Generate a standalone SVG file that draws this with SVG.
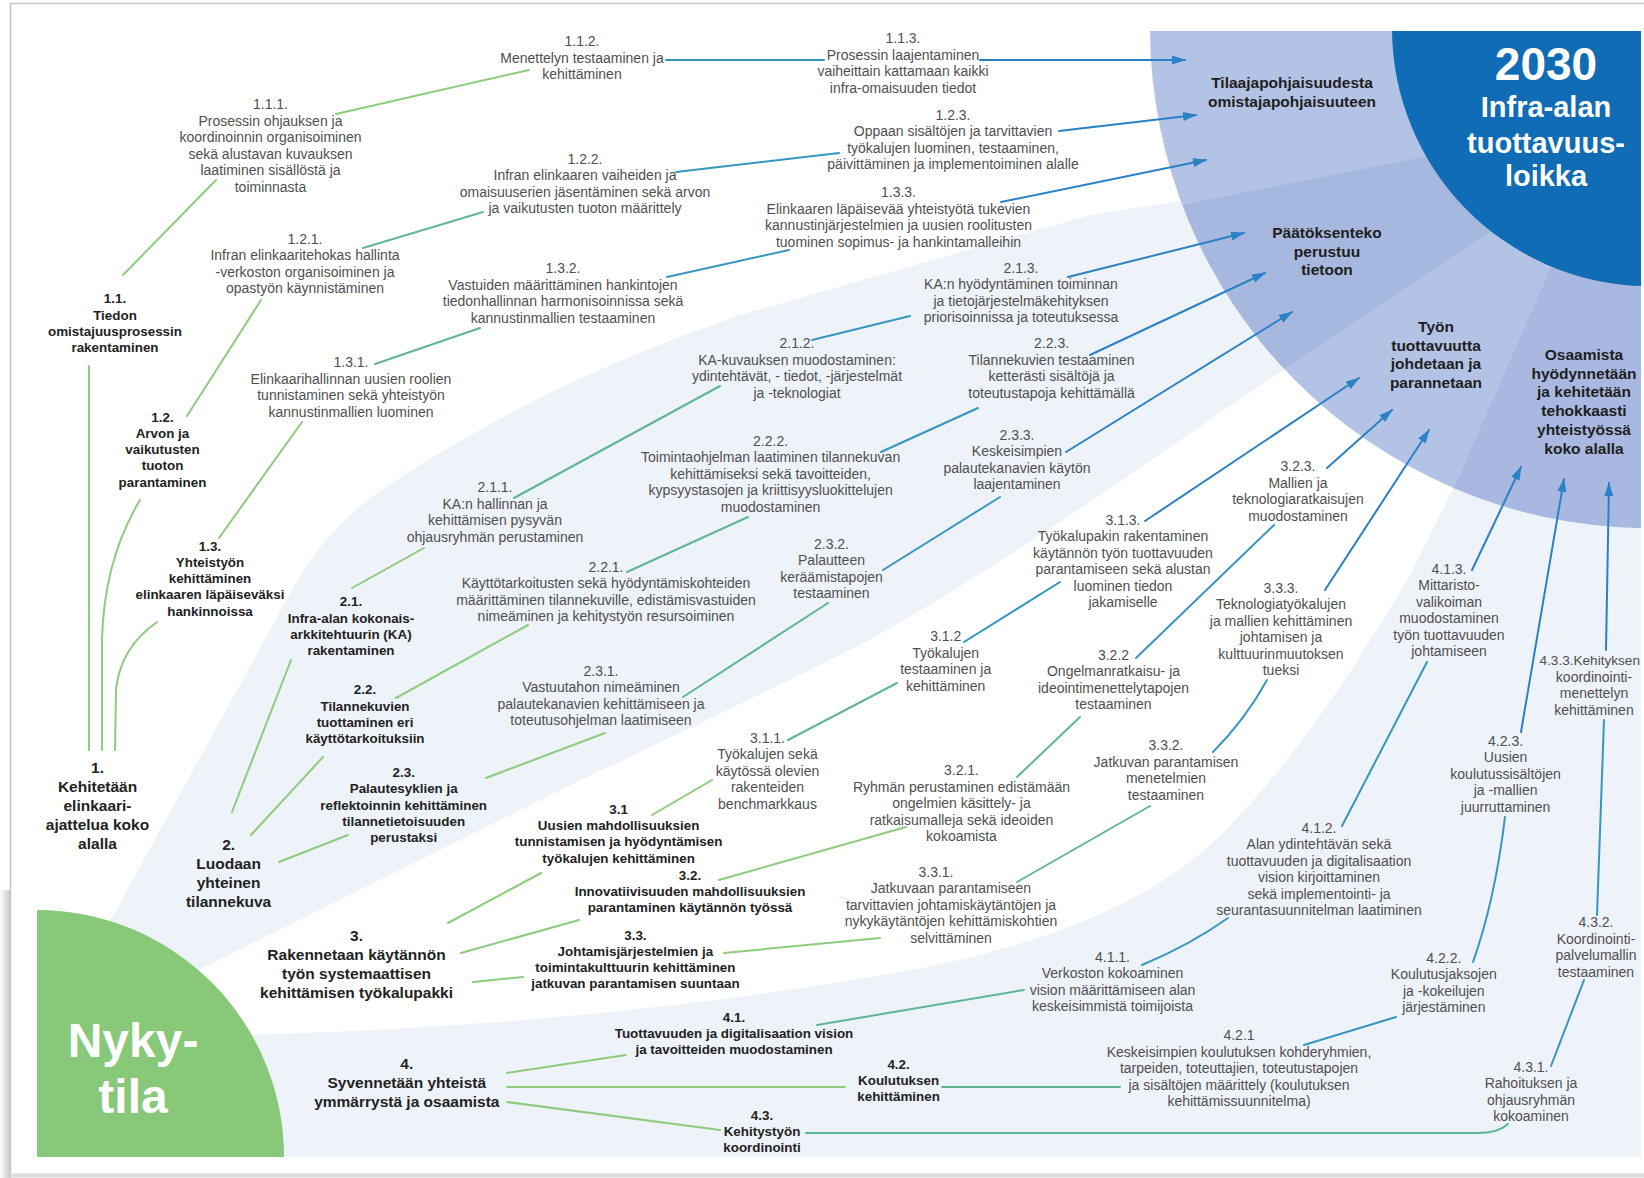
<svg xmlns="http://www.w3.org/2000/svg" width="1644" height="1178" viewBox="0 0 1644 1178">
<defs>
<style>
text{font-family:"Liberation Sans",Arial,sans-serif;text-anchor:middle}
.s{font-size:14px;fill:#4f4f4f}
.b{font-size:13.4px;font-weight:bold;fill:#222}
.t{font-size:15.5px;font-weight:bold;fill:#222}
.g{font-size:15.5px;font-weight:bold;fill:#1e1e1e}
.w{font-weight:bold;fill:#fff}
.c{fill:none;stroke-width:2;stroke-linecap:round}
.c0{stroke:#8dcb7f}
.c1{stroke:#5fb792}
.c2{stroke:#3796c0}
.c3{stroke:#2a81c5}
</style>
<marker id="ah" markerWidth="14" markerHeight="10" refX="13" refY="5" orient="auto" markerUnits="userSpaceOnUse"><path d="M0,0.5 L14,5 L0,9.5 Z" fill="#2a81c5"/></marker>
<clipPath id="cc"><path d="M1150,31 A500,500 0 0 0 1641,528 L1641,31 Z"/></clipPath>
<linearGradient id="sh" x1="0" y1="0" x2="1" y2="0"><stop offset="0" stop-color="#ffffff"/><stop offset="1" stop-color="#c9c9c9"/></linearGradient>
</defs>
<g id="background">
<rect width="1644" height="1178" fill="#fff"/>
<rect x="0" y="890" width="10" height="288" fill="url(#sh)"/>
<path d="M10.5,1178 L10.5,3.5 L1644,3.5" fill="none" stroke="#c6c6c6" stroke-width="1.5"/>
<path d="M10.5,1175.5 L1644,1175.5" stroke="#dcdcdc" stroke-width="4"/>
<path id="band2" fill="#eef2f9" d="M108,925 L292,590 Q330,520 400,478 Q470,432 560,388 Q640,350 740,315 L1090,215 L1250,190 L1330,330 L1290,365 L1100,495 Q960,590 860,645 Q760,695 560,790 L195,972 Z"/>
<path id="band4" fill="#eef2f9" d="M250,1035 Q600,1025 900,972 C1050,945 1150,900 1210,845 C1290,770 1360,660 1410,575 L1455,485 L1470,450 L1641,450 L1641,1157 L37,1157 L37,1035 Z"/>
<g clip-path="url(#cc)">
<rect x="1100" y="0" width="544" height="600" fill="#b3c3e6"/>
<polygon points="1100,222 1182,205 1650,112 1650,126 1290,365 1100,495" fill="#a7b8df"/>
<polygon points="1361,700 1563,240 1650,240 1650,700" fill="#a8b8e0"/>
</g>
<path d="M1392,31 A258,258 0 0 0 1641,286 L1641,31 Z" fill="#106cb4"/>
<path d="M37,910 A247,247 0 0 1 284,1157 L37,1157 Z" fill="#87c879"/>
</g>
<g id="connectors">
<path class="c c0" d="M89,750 L89,366"/>
<path class="c c0" d="M102,750 L102,640 Q104,560 140,500"/>
<path class="c c0" d="M115,750 L116,690 Q120,648 157,622"/>
<path class="c c0" d="M123,275 L216,180"/>
<path class="c c0" d="M336,114 L529,70"/>
<path class="c c2" d="M666,60 L824,60"/>
<path class="c c3" d="M980,60 L1185,60" marker-end="url(#ah)"/>
<path class="c c0" d="M187,416 L261,300"/>
<path class="c c1" d="M363,248 L483,212"/>
<path class="c c2" d="M676,172 L839,153"/>
<path class="c c3" d="M1059,131 L1196,115" marker-end="url(#ah)"/>
<path class="c c0" d="M219,538 L302,422"/>
<path class="c c1" d="M375,364 L480,328"/>
<path class="c c2" d="M667,277 L789,250"/>
<path class="c c3" d="M1001,202 L1206,160" marker-end="url(#ah)"/>
<path class="c c0" d="M232,812 L291,660"/>
<path class="c c0" d="M251,835 L323,757"/>
<path class="c c0" d="M279,862 L348,835"/>
<path class="c c0" d="M352,588 L424,548"/>
<path class="c c1" d="M514,498 L720,386"/>
<path class="c c2" d="M812,340 L910,316"/>
<path class="c c3" d="M1068,277 L1244,233" marker-end="url(#ah)"/>
<path class="c c0" d="M396,698 L528,625"/>
<path class="c c1" d="M627,572 L748,517"/>
<path class="c c2" d="M881,452 L978,408"/>
<path class="c c3" d="M1090,355 L1265,273" marker-end="url(#ah)"/>
<path class="c c0" d="M486,778 L605,733"/>
<path class="c c1" d="M683,697 L828,603"/>
<path class="c c2" d="M883,570 L1000,497"/>
<path class="c c3" d="M1066,452 L1292,312" marker-end="url(#ah)"/>
<path class="c c0" d="M448,923 L541,873"/>
<path class="c c0" d="M461,953 L579,920"/>
<path class="c c0" d="M473,982 L523,977"/>
<path class="c c0" d="M652,815 L712,780"/>
<path class="c c1" d="M788,740 L897,683"/>
<path class="c c2" d="M964,642 L1060,582"/>
<path class="c c3" d="M1145,521 L1359,378" marker-end="url(#ah)"/>
<path class="c c0" d="M719,880 L906,827"/>
<path class="c c1" d="M1017,777 L1080,717"/>
<path class="c c2" d="M1136,658 L1274,525"/>
<path class="c c3" d="M1327,468 L1392,410" marker-end="url(#ah)"/>
<path class="c c0" d="M724,953 L880,938"/>
<path class="c c1" d="M1017,882 L1150,806"/>
<path class="c c2" d="M1213,752 Q1245,720 1267,680"/>
<path class="c c3" d="M1325,590 L1429,430" marker-end="url(#ah)"/>
<path class="c c0" d="M507,1073 L626,1055"/>
<path class="c c0" d="M507,1087 L845,1087"/>
<path class="c c0" d="M507,1102 L720,1130"/>
<path class="c c1" d="M817,1025 L1024,990"/>
<path class="c c2" d="M1142,965 Q1190,945 1228,918"/>
<path class="c c2" d="M1342,826 L1427,662"/>
<path class="c c3" d="M1472,570 L1521,467" marker-end="url(#ah)"/>
<path class="c c1" d="M942,1087 L1120,1087"/>
<path class="c c2" d="M1304,1045 L1396,1017"/>
<path class="c c2" d="M1473,962 Q1495,900 1505,817"/>
<path class="c c3" d="M1521,732 L1564,479" marker-end="url(#ah)"/>
<path class="c c1" d="M806,1133 L1478,1133 Q1498,1133 1508,1124"/>
<path class="c c2" d="M1551,1066 L1584,980"/>
<path class="c c2" d="M1597,915 L1604,720"/>
<path class="c c3" d="M1606,650 L1609,483" marker-end="url(#ah)"/>
</g>
<g id="goal-2030"><text class="w" x="1546" y="80" font-size="46">2030</text><text class="w" x="1546" y="117" font-size="29">Infra-alan</text><text class="w" x="1546" y="153" font-size="29">tuottavuus-</text><text class="w" x="1546" y="186" font-size="29">loikka</text></g>
<g id="goal-1"><text class="g" x="1292" y="88"><tspan x="1292">Tilaajapohjaisuudesta</tspan><tspan x="1292" dy="18.7">omistajapohjaisuuteen</tspan></text></g>
<g id="goal-2"><text class="g" x="1327" y="238"><tspan x="1327">Päätöksenteko</tspan><tspan x="1327" dy="18.7">perustuu</tspan><tspan x="1327" dy="18.7">tietoon</tspan></text></g>
<g id="goal-3"><text class="g" x="1436" y="332"><tspan x="1436">Työn</tspan><tspan x="1436" dy="18.7">tuottavuutta</tspan><tspan x="1436" dy="18.7">johdetaan ja</tspan><tspan x="1436" dy="18.7">parannetaan</tspan></text></g>
<g id="goal-4"><text class="g" x="1584" y="360"><tspan x="1584">Osaamista</tspan><tspan x="1584" dy="18.7">hyödynnetään</tspan><tspan x="1584" dy="18.7">ja kehitetään</tspan><tspan x="1584" dy="18.7">tehokkaasti</tspan><tspan x="1584" dy="18.7">yhteistyössä</tspan><tspan x="1584" dy="18.7">koko alalla</tspan></text></g>
<g id="nykytila"><text class="w" x="133" y="1057" font-size="48">Nyky-</text><text class="w" x="133" y="1113" font-size="48">tila</text></g>
<g id="n1"><text class="t" x="97.5" y="773"><tspan x="97.5">1.</tspan><tspan x="97.5" dy="19.1">Kehitetään</tspan><tspan x="97.5" dy="19.1">elinkaari-</tspan><tspan x="97.5" dy="19.1">ajattelua koko</tspan><tspan x="97.5" dy="19.1">alalla</tspan></text></g>
<g id="n11"><text class="b" x="115" y="303.3"><tspan x="115">1.1.</tspan><tspan x="115" dy="16.2">Tiedon</tspan><tspan x="115" dy="16.2">omistajuusprosessin</tspan><tspan x="115" dy="16.2">rakentaminen</tspan></text></g>
<g id="n12"><text class="b" x="162.5" y="421.8"><tspan x="162.5">1.2.</tspan><tspan x="162.5" dy="16.2">Arvon ja</tspan><tspan x="162.5" dy="16.2">vaikutusten</tspan><tspan x="162.5" dy="16.2">tuoton</tspan><tspan x="162.5" dy="16.2">parantaminen</tspan></text></g>
<g id="n13"><text class="b" x="210" y="550.8"><tspan x="210">1.3.</tspan><tspan x="210" dy="16.2">Yhteistyön</tspan><tspan x="210" dy="16.2">kehittäminen</tspan><tspan x="210" dy="16.2">elinkaaren läpäiseväksi</tspan><tspan x="210" dy="16.2">hankinnoissa</tspan></text></g>
<g id="n111"><text class="s" x="270.5" y="109.4"><tspan x="270.5">1.1.1.</tspan><tspan x="270.5" dy="16.5">Prosessin ohjauksen ja</tspan><tspan x="270.5" dy="16.5">koordinoinnin organisoiminen</tspan><tspan x="270.5" dy="16.5">sekä alustavan kuvauksen</tspan><tspan x="270.5" dy="16.5">laatiminen sisällöstä ja</tspan><tspan x="270.5" dy="16.5">toiminnasta</tspan></text></g>
<g id="n112"><text class="s" x="582" y="46.4"><tspan x="582">1.1.2.</tspan><tspan x="582" dy="16.5">Menettelyn testaaminen ja</tspan><tspan x="582" dy="16.5">kehittäminen</tspan></text></g>
<g id="n113"><text class="s" x="903" y="43.3"><tspan x="903">1.1.3.</tspan><tspan x="903" dy="16.5">Prosessin laajentaminen</tspan><tspan x="903" dy="16.5">vaiheittain kattamaan kaikki</tspan><tspan x="903" dy="16.5">infra-omaisuuden tiedot</tspan></text></g>
<g id="n121"><text class="s" x="305" y="243.6"><tspan x="305">1.2.1.</tspan><tspan x="305" dy="16.5">Infran elinkaaritehokas hallinta</tspan><tspan x="305" dy="16.5">-verkoston organisoiminen ja</tspan><tspan x="305" dy="16.5">opastyön käynnistäminen</tspan></text></g>
<g id="n122"><text class="s" x="585" y="163.9"><tspan x="585">1.2.2.</tspan><tspan x="585" dy="16.5">Infran elinkaaren vaiheiden ja</tspan><tspan x="585" dy="16.5">omaisuuserien jäsentäminen sekä arvon</tspan><tspan x="585" dy="16.5">ja vaikutusten tuoton määrittely</tspan></text></g>
<g id="n123"><text class="s" x="953" y="119.8"><tspan x="953">1.2.3.</tspan><tspan x="953" dy="16.5">Oppaan sisältöjen ja tarvittavien</tspan><tspan x="953" dy="16.5">työkalujen luominen, testaaminen,</tspan><tspan x="953" dy="16.5">päivittäminen ja implementoiminen alalle</tspan></text></g>
<g id="n131"><text class="s" x="351" y="367.3"><tspan x="351">1.3.1.</tspan><tspan x="351" dy="16.5">Elinkaarihallinnan uusien roolien</tspan><tspan x="351" dy="16.5">tunnistaminen sekä yhteistyön</tspan><tspan x="351" dy="16.5">kannustinmallien luominen</tspan></text></g>
<g id="n132"><text class="s" x="563" y="273"><tspan x="563">1.3.2.</tspan><tspan x="563" dy="16.5">Vastuiden määrittäminen hankintojen</tspan><tspan x="563" dy="16.5">tiedonhallinnan harmonisoinnissa sekä</tspan><tspan x="563" dy="16.5">kannustinmallien testaaminen</tspan></text></g>
<g id="n133"><text class="s" x="898.5" y="197.4"><tspan x="898.5">1.3.3.</tspan><tspan x="898.5" dy="16.5">Elinkaaren läpäisevää yhteistyötä tukevien</tspan><tspan x="898.5" dy="16.5">kannustinjärjestelmien ja uusien roolitusten</tspan><tspan x="898.5" dy="16.5">tuominen sopimus- ja hankintamalleihin</tspan></text></g>
<g id="n2"><text class="t" x="228.6" y="849.6"><tspan x="228.6">2.</tspan><tspan x="228.6" dy="19.1">Luodaan</tspan><tspan x="228.6" dy="19.1">yhteinen</tspan><tspan x="228.6" dy="19.1">tilannekuva</tspan></text></g>
<g id="n21"><text class="b" x="351" y="606.3"><tspan x="351">2.1.</tspan><tspan x="351" dy="16.2">Infra-alan kokonais-</tspan><tspan x="351" dy="16.2">arkkitehtuurin (KA)</tspan><tspan x="351" dy="16.2">rakentaminen</tspan></text></g>
<g id="n22"><text class="b" x="365" y="694.4"><tspan x="365">2.2.</tspan><tspan x="365" dy="16.2">Tilannekuvien</tspan><tspan x="365" dy="16.2">tuottaminen eri</tspan><tspan x="365" dy="16.2">käyttötarkoituksiin</tspan></text></g>
<g id="n23"><text class="b" x="403.7" y="777.2"><tspan x="403.7">2.3.</tspan><tspan x="403.7" dy="16.2">Palautesyklien ja</tspan><tspan x="403.7" dy="16.2">reflektoinnin kehittäminen</tspan><tspan x="403.7" dy="16.2">tilannetietoisuuden</tspan><tspan x="403.7" dy="16.2">perustaksi</tspan></text></g>
<g id="n211"><text class="s" x="495" y="492"><tspan x="495">2.1.1.</tspan><tspan x="495" dy="16.5">KA:n hallinnan ja</tspan><tspan x="495" dy="16.5">kehittämisen pysyvän</tspan><tspan x="495" dy="16.5">ohjausryhmän perustaminen</tspan></text></g>
<g id="n212"><text class="s" x="797" y="348.4"><tspan x="797">2.1.2.</tspan><tspan x="797" dy="16.5">KA-kuvauksen muodostaminen:</tspan><tspan x="797" dy="16.5">ydintehtävät, - tiedot, -järjestelmät</tspan><tspan x="797" dy="16.5">ja -teknologiat</tspan></text></g>
<g id="n213"><text class="s" x="1021" y="272.9"><tspan x="1021">2.1.3.</tspan><tspan x="1021" dy="16.5">KA:n hyödyntäminen toiminnan</tspan><tspan x="1021" dy="16.5">ja tietojärjestelmäkehityksen</tspan><tspan x="1021" dy="16.5">priorisoinnissa ja toteutuksessa</tspan></text></g>
<g id="n221"><text class="s" x="606" y="571.7"><tspan x="606">2.2.1.</tspan><tspan x="606" dy="16.5">Käyttötarkoitusten sekä hyödyntämiskohteiden</tspan><tspan x="606" dy="16.5">määrittäminen tilannekuville, edistämisvastuiden</tspan><tspan x="606" dy="16.5">nimeäminen ja kehitystyön resursoiminen</tspan></text></g>
<g id="n222"><text class="s" x="770.6" y="445.9"><tspan x="770.6">2.2.2.</tspan><tspan x="770.6" dy="16.5">Toimintaohjelman laatiminen tilannekuvan</tspan><tspan x="770.6" dy="16.5">kehittämiseksi sekä tavoitteiden,</tspan><tspan x="770.6" dy="16.5">kypsyystasojen ja kriittisyysluokittelujen</tspan><tspan x="770.6" dy="16.5">muodostaminen</tspan></text></g>
<g id="n223"><text class="s" x="1051.6" y="348.4"><tspan x="1051.6">2.2.3.</tspan><tspan x="1051.6" dy="16.5">Tilannekuvien testaaminen</tspan><tspan x="1051.6" dy="16.5">ketterästi sisältöjä ja</tspan><tspan x="1051.6" dy="16.5">toteutustapoja kehittämällä</tspan></text></g>
<g id="n231"><text class="s" x="601" y="675.6"><tspan x="601">2.3.1.</tspan><tspan x="601" dy="16.5">Vastuutahon nimeäminen</tspan><tspan x="601" dy="16.5">palautekanavien kehittämiseen ja</tspan><tspan x="601" dy="16.5">toteutusohjelman laatimiseen</tspan></text></g>
<g id="n232"><text class="s" x="831.5" y="548.7"><tspan x="831.5">2.3.2.</tspan><tspan x="831.5" dy="16.5">Palautteen</tspan><tspan x="831.5" dy="16.5">keräämistapojen</tspan><tspan x="831.5" dy="16.5">testaaminen</tspan></text></g>
<g id="n233"><text class="s" x="1017" y="439.6"><tspan x="1017">2.3.3.</tspan><tspan x="1017" dy="16.5">Keskeisimpien</tspan><tspan x="1017" dy="16.5">palautekanavien käytön</tspan><tspan x="1017" dy="16.5">laajentaminen</tspan></text></g>
<g id="n3"><text class="t" x="356.5" y="940.8"><tspan x="356.5">3.</tspan><tspan x="356.5" dy="19.1">Rakennetaan käytännön</tspan><tspan x="356.5" dy="19.1">työn systemaattisen</tspan><tspan x="356.5" dy="19.1">kehittämisen työkalupakki</tspan></text></g>
<g id="n31"><text class="b" x="618.6" y="814"><tspan x="618.6">3.1</tspan><tspan x="618.6" dy="16.2">Uusien mahdollisuuksien</tspan><tspan x="618.6" dy="16.2">tunnistamisen ja hyödyntämisen</tspan><tspan x="618.6" dy="16.2">työkalujen kehittäminen</tspan></text></g>
<g id="n32"><text class="b" x="690" y="880"><tspan x="690">3.2.</tspan><tspan x="690" dy="16.2">Innovatiivisuuden mahdollisuuksien</tspan><tspan x="690" dy="16.2">parantaminen käytännön työssä</tspan></text></g>
<g id="n33"><text class="b" x="635.4" y="939.8"><tspan x="635.4">3.3.</tspan><tspan x="635.4" dy="16.2">Johtamisjärjestelmien ja</tspan><tspan x="635.4" dy="16.2">toimintakulttuurin kehittäminen</tspan><tspan x="635.4" dy="16.2">jatkuvan parantamisen suuntaan</tspan></text></g>
<g id="n311"><text class="s" x="767.5" y="742.6"><tspan x="767.5">3.1.1.</tspan><tspan x="767.5" dy="16.5">Työkalujen sekä</tspan><tspan x="767.5" dy="16.5">käytössä olevien</tspan><tspan x="767.5" dy="16.5">rakenteiden</tspan><tspan x="767.5" dy="16.5">benchmarkkaus</tspan></text></g>
<g id="n312"><text class="s" x="945.7" y="641"><tspan x="945.7">3.1.2</tspan><tspan x="945.7" dy="16.5">Työkalujen</tspan><tspan x="945.7" dy="16.5">testaaminen ja</tspan><tspan x="945.7" dy="16.5">kehittäminen</tspan></text></g>
<g id="n313"><text class="s" x="1123" y="524.6"><tspan x="1123">3.1.3.</tspan><tspan x="1123" dy="16.5">Työkalupakin rakentaminen</tspan><tspan x="1123" dy="16.5">käytännön työn tuottavuuden</tspan><tspan x="1123" dy="16.5">parantamiseen sekä alustan</tspan><tspan x="1123" dy="16.5">luominen tiedon</tspan><tspan x="1123" dy="16.5">jakamiselle</tspan></text></g>
<g id="n321"><text class="s" x="961.5" y="775.2"><tspan x="961.5">3.2.1.</tspan><tspan x="961.5" dy="16.5">Ryhmän perustaminen edistämään</tspan><tspan x="961.5" dy="16.5">ongelmien käsittely- ja</tspan><tspan x="961.5" dy="16.5">ratkaisumalleja sekä ideoiden</tspan><tspan x="961.5" dy="16.5">kokoamista</tspan></text></g>
<g id="n322"><text class="s" x="1113.5" y="659.8"><tspan x="1113.5">3.2.2</tspan><tspan x="1113.5" dy="16.5">Ongelmanratkaisu- ja</tspan><tspan x="1113.5" dy="16.5">ideointimenettelytapojen</tspan><tspan x="1113.5" dy="16.5">testaaminen</tspan></text></g>
<g id="n323"><text class="s" x="1298" y="471"><tspan x="1298">3.2.3.</tspan><tspan x="1298" dy="16.5">Mallien ja</tspan><tspan x="1298" dy="16.5">teknologiaratkaisujen</tspan><tspan x="1298" dy="16.5">muodostaminen</tspan></text></g>
<g id="n331"><text class="s" x="936" y="876.9"><tspan x="936">3.3.1.</tspan><tspan x="951" dy="16.5">Jatkuvaan parantamiseen</tspan><tspan x="951" dy="16.5">tarvittavien johtamiskäytäntöjen ja</tspan><tspan x="951" dy="16.5">nykykäytäntöjen kehittämiskohtien</tspan><tspan x="951" dy="16.5">selvittäminen</tspan></text></g>
<g id="n332"><text class="s" x="1166" y="750"><tspan x="1166">3.3.2.</tspan><tspan x="1166" dy="16.5">Jatkuvan parantamisen</tspan><tspan x="1166" dy="16.5">menetelmien</tspan><tspan x="1166" dy="16.5">testaaminen</tspan></text></g>
<g id="n333"><text class="s" x="1281" y="592.7"><tspan x="1281">3.3.3.</tspan><tspan x="1281" dy="16.5">Teknologiatyökalujen</tspan><tspan x="1281" dy="16.5">ja mallien kehittäminen</tspan><tspan x="1281" dy="16.5">johtamisen ja</tspan><tspan x="1281" dy="16.5">kulttuurinmuutoksen</tspan><tspan x="1281" dy="16.5">tueksi</tspan></text></g>
<g id="n4"><text class="t" x="406.8" y="1068.7"><tspan x="406.8">4.</tspan><tspan x="406.8" dy="19.1">Syvennetään yhteistä</tspan><tspan x="406.8" dy="19.1">ymmärrystä ja osaamista</tspan></text></g>
<g id="n41"><text class="b" x="734" y="1021.6"><tspan x="734">4.1.</tspan><tspan x="734" dy="16.2">Tuottavuuden ja digitalisaation vision</tspan><tspan x="734" dy="16.2">ja tavoitteiden muodostaminen</tspan></text></g>
<g id="n42"><text class="b" x="898.6" y="1068.7"><tspan x="898.6">4.2.</tspan><tspan x="898.6" dy="16.2">Koulutuksen</tspan><tspan x="898.6" dy="16.2">kehittäminen</tspan></text></g>
<g id="n43"><text class="b" x="762" y="1120"><tspan x="762">4.3.</tspan><tspan x="762" dy="16.2">Kehitystyön</tspan><tspan x="762" dy="16.2">koordinointi</tspan></text></g>
<g id="n411"><text class="s" x="1112.5" y="961.8"><tspan x="1112.5">4.1.1.</tspan><tspan x="1112.5" dy="16.5">Verkoston kokoaminen</tspan><tspan x="1112.5" dy="16.5">vision määrittämiseen alan</tspan><tspan x="1112.5" dy="16.5">keskeisimmistä toimijoista</tspan></text></g>
<g id="n412"><text class="s" x="1319" y="832.8"><tspan x="1319">4.1.2.</tspan><tspan x="1319" dy="16.5">Alan ydintehtävän sekä</tspan><tspan x="1319" dy="16.5">tuottavuuden ja digitalisaation</tspan><tspan x="1319" dy="16.5">vision kirjoittaminen</tspan><tspan x="1319" dy="16.5">sekä implementointi- ja</tspan><tspan x="1319" dy="16.5">seurantasuunnitelman laatiminen</tspan></text></g>
<g id="n413"><text class="s" x="1449" y="573.8"><tspan x="1449">4.1.3.</tspan><tspan x="1449" dy="16.5">Mittaristo-</tspan><tspan x="1449" dy="16.5">valikoiman</tspan><tspan x="1449" dy="16.5">muodostaminen</tspan><tspan x="1449" dy="16.5">työn tuottavuuden</tspan><tspan x="1449" dy="16.5">johtamiseen</tspan></text></g>
<g id="n421"><text class="s" x="1239" y="1040.4"><tspan x="1239">4.2.1</tspan><tspan x="1239" dy="16.5">Keskeisimpien koulutuksen kohderyhmien,</tspan><tspan x="1239" dy="16.5">tarpeiden, toteuttajien, toteutustapojen</tspan><tspan x="1239" dy="16.5">ja sisältöjen määrittely (koulutuksen</tspan><tspan x="1239" dy="16.5">kehittämissuunnitelma)</tspan></text></g>
<g id="n422"><text class="s" x="1443.8" y="962.8"><tspan x="1443.8">4.2.2.</tspan><tspan x="1443.8" dy="16.5">Koulutusjaksojen</tspan><tspan x="1443.8" dy="16.5">ja -kokeilujen</tspan><tspan x="1443.8" dy="16.5">järjestäminen</tspan></text></g>
<g id="n423"><text class="s" x="1505.6" y="745.8"><tspan x="1505.6">4.2.3.</tspan><tspan x="1505.6" dy="16.5">Uusien</tspan><tspan x="1505.6" dy="16.5">koulutussisältöjen</tspan><tspan x="1505.6" dy="16.5">ja -mallien</tspan><tspan x="1505.6" dy="16.5">juurruttaminen</tspan></text></g>
<g id="n431"><text class="s" x="1531" y="1071.9"><tspan x="1531">4.3.1.</tspan><tspan x="1531" dy="16.5">Rahoituksen ja</tspan><tspan x="1531" dy="16.5">ohjausryhmän</tspan><tspan x="1531" dy="16.5">kokoaminen</tspan></text></g>
<g id="n432"><text class="s" x="1596" y="927.2"><tspan x="1596">4.3.2.</tspan><tspan x="1596" dy="16.5">Koordinointi-</tspan><tspan x="1596" dy="16.5">palvelumallin</tspan><tspan x="1596" dy="16.5">testaaminen</tspan></text></g>
<g id="n433"><text class="s" x="1640" y="665" style="text-anchor:end;font-size:13.6px">4.3.3.Kehityksen</text><text class="s" x="1594" y="681.5"><tspan x="1594">koordinointi-</tspan><tspan x="1594" dy="16.5">menettelyn</tspan><tspan x="1594" dy="16.5">kehittäminen</tspan></text></g>
</svg>
